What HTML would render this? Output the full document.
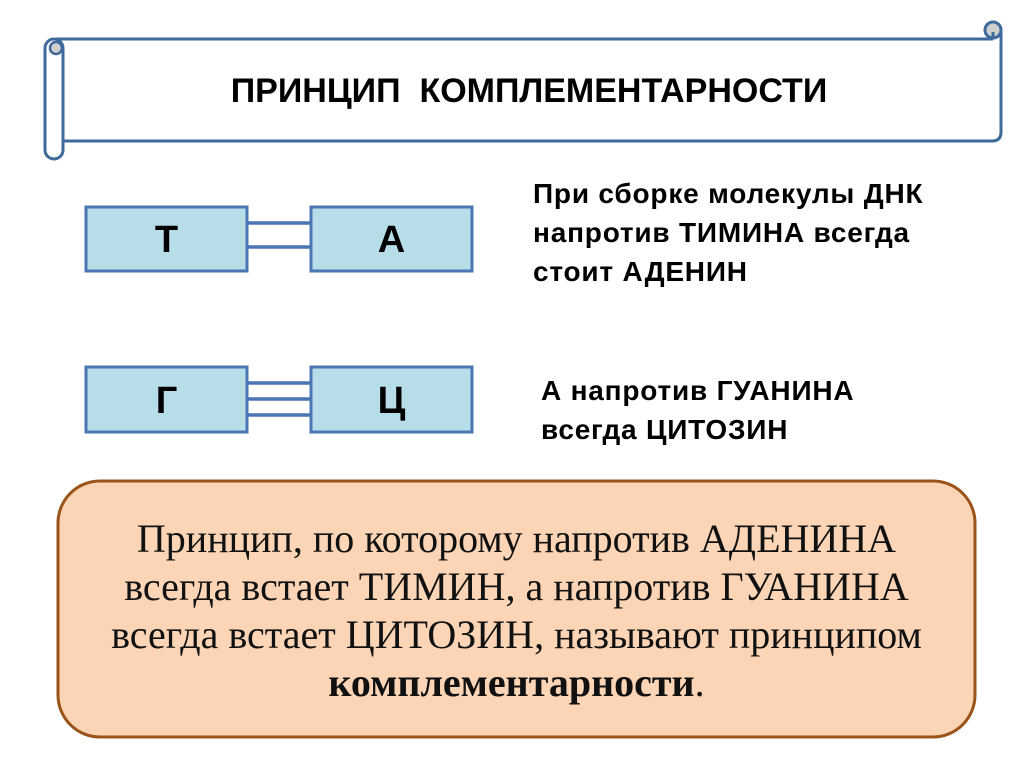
<!DOCTYPE html>
<html>
<head>
<meta charset="utf-8">
<style>
  html,body{margin:0;padding:0;background:#fff;}
  body{width:1024px;height:767px;position:relative;overflow:hidden;}
  .abs{position:absolute;}
  .title{left:0;width:1058px;top:74px;text-align:center;font-family:"Liberation Sans",sans-serif;font-weight:bold;font-size:34px;line-height:34px;color:#000;white-space:pre;}
  .rt{font-family:"Liberation Sans",sans-serif;font-weight:bold;font-size:28px;line-height:39px;letter-spacing:0.8px;color:#000;white-space:nowrap;}
  .let{font-family:"Liberation Sans",sans-serif;font-weight:bold;font-size:38px;line-height:40px;color:#000;text-align:center;}
  .pink{left:57px;width:919px;top:515px;text-align:center;font-family:"Liberation Serif",serif;font-size:40px;line-height:48px;color:#111;white-space:nowrap;}
</style>
</head>
<body>
<svg class="abs" style="left:0;top:0" width="1024" height="767" viewBox="0 0 1024 767">
  <!-- scroll body -->
  <path d="M56 39 L993 39 M1001 30 L1001 132 Q1001 141 992 141 L63 141" fill="none" stroke="#3f6a9c" stroke-width="3"/>
  <!-- left roll -->
  <rect x="45" y="39" width="18" height="120" rx="9" ry="9" fill="#fff" stroke="#3f6a9c" stroke-width="3"/>
  <circle cx="56" cy="48" r="6" fill="#cfcfcf" stroke="#3f6a9c" stroke-width="2.5"/>
  <!-- right curl -->
  <circle cx="993" cy="30" r="8" fill="#cfcfcf" stroke="#3f6a9c" stroke-width="3"/>
  <path d="M993 32 L993 39" stroke="#3f6a9c" stroke-width="3"/>

  <!-- T-A pair -->
  <rect x="86" y="207" width="161" height="64" fill="#b7dde8" stroke="#4a77b4" stroke-width="3"/>
  <rect x="311" y="207" width="161" height="64" fill="#b7dde8" stroke="#4a77b4" stroke-width="3"/>
  <line x1="247" y1="223" x2="311" y2="223" stroke="#4a77b4" stroke-width="3.5"/>
  <line x1="247" y1="247" x2="311" y2="247" stroke="#4a77b4" stroke-width="3.5"/>

  <!-- G-C pair -->
  <rect x="86" y="367" width="161" height="65" fill="#b7dde8" stroke="#4a77b4" stroke-width="3"/>
  <rect x="311" y="367" width="161" height="65" fill="#b7dde8" stroke="#4a77b4" stroke-width="3"/>
  <line x1="247" y1="383" x2="311" y2="383" stroke="#4a77b4" stroke-width="3.5"/>
  <line x1="247" y1="399" x2="311" y2="399" stroke="#4a77b4" stroke-width="3.5"/>
  <line x1="247" y1="415" x2="311" y2="415" stroke="#4a77b4" stroke-width="3.5"/>

  <!-- pink box -->
  <rect x="58" y="481" width="917" height="256" rx="42" ry="42" fill="#fbd5b5" stroke="#9a541a" stroke-width="3"/>
</svg>

<div class="abs title">ПРИНЦИП  КОМПЛЕМЕНТАРНОСТИ</div>

<div class="abs let" style="left:86px;width:161px;top:220px;">Т</div>
<div class="abs let" style="left:311px;width:161px;top:220px;">А</div>
<div class="abs let" style="left:86px;width:161px;top:381px;">Г</div>
<div class="abs let" style="left:311px;width:161px;top:381px;">Ц</div>

<div class="abs rt" style="left:533px;top:174px;">При сборке молекулы ДНК<br>напротив ТИМИНА всегда<br>стоит АДЕНИН</div>
<div class="abs rt" style="left:541px;top:371px;">А напротив ГУАНИНА<br>всегда ЦИТОЗИН</div>

<div class="abs pink">Принцип, по которому напротив АДЕНИНА<br>всегда встает ТИМИН, а напротив ГУАНИНА<br>всегда встает ЦИТОЗИН, называют принципом<br><b>комплементарности</b>.</div>
</body>
</html>
